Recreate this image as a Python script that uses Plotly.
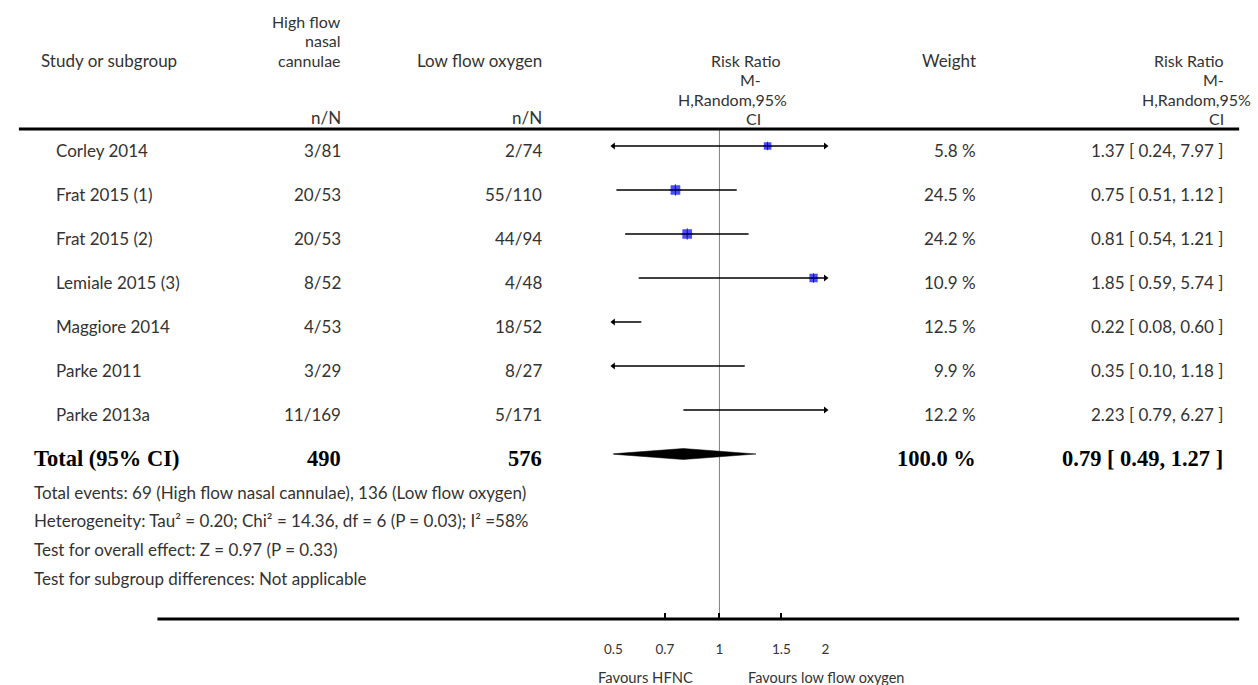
import math
import plotly.graph_objects as go

# ---------------- data ----------------
studies = ["Corley 2014", "Frat 2015 (1)", "Frat 2015 (2)", "Lemiale 2015 (3)",
           "Maggiore 2014", "Parke 2011", "Parke 2013a"]
hfnc_nN = ["3/81", "20/53", "20/53", "8/52", "4/53", "3/29", "11/169"]
lfo_nN = ["2/74", "55/110", "44/94", "4/48", "18/52", "8/27", "5/171"]
weights = [5.8, 24.5, 24.2, 10.9, 12.5, 9.9, 12.2]
rr = [1.37, 0.75, 0.81, 1.85, 0.22, 0.35, 2.23]
rr_lo = [0.24, 0.51, 0.54, 0.59, 0.08, 0.10, 0.79]
rr_hi = [7.97, 1.12, 1.21, 5.74, 0.60, 1.18, 6.27]

total_label = "Total (95% CI)"
total_hfnc = 490
total_lfo = 576
total_weight = 100.0
total_rr, total_lo, total_hi = 0.79, 0.49, 1.27

footer_lines = [
    "Total events: 69 (High flow nasal cannulae), 136 (Low flow oxygen)",
    "Heterogeneity: Tau² = 0.20; Chi² = 14.36, df = 6 (P = 0.03); I² =58%",
    "Test for overall effect: Z = 0.97 (P = 0.33)",
    "Test for subgroup differences: Not applicable",
]

header_hfnc = ["High flow", "nasal", "cannulae"]
header_rr = ["Risk Ratio", "M-", "H,Random,95%", "CI"]

tick_vals = [0.5, 0.7, 1, 1.5, 2]
tick_text = ["0.5", "0.7", "1", "1.5", "2"]
favours_left = "Favours HFNC"
favours_right = "Favours low flow oxygen"

# ---------------- layout geometry ----------------
W, H = 1258, 685
XMIN, XMAX = 0.5, 2.0
PLOT_L, PLOT_R = 610.7, 825.0      # px of forest axis
AXIS_Y = 619                      # px of bottom axis line
ROW0, ROWH = 146, 44              # px of first row, row spacing
SANS = "Lato"
SERIF = "Liberation Serif"
TXT = "#333333"
FS = 17
HS = 16
BS = 22.5


def px(x):
    return x / W


def py(y):
    return 1 - y / H


n = len(studies)
rows = list(range(n))
total_row = n

y_bottom = (AXIS_Y - ROW0) / ROWH
y_top = (0 - ROW0) / ROWH

fig = go.Figure()

# CI lines
for i in rows:
    fig.add_trace(go.Scatter(
        x=[rr_lo[i], rr_hi[i]], y=[i, i], mode="lines",
        line=dict(color="black", width=1.5), hoverinfo="skip", showlegend=False))

# arrows where CI exceeds axis range
left_rows = [i for i in rows if rr_lo[i] < XMIN]
right_rows = [i for i in rows if rr_hi[i] > XMAX]
fig.add_trace(go.Scatter(
    x=[XMIN] * len(left_rows), y=left_rows, mode="markers", cliponaxis=False,
    marker=dict(symbol="triangle-left", size=6, color="black"),
    hoverinfo="skip", showlegend=False))
fig.add_trace(go.Scatter(
    x=[XMAX] * len(right_rows), y=right_rows, mode="markers", cliponaxis=False,
    marker=dict(symbol="triangle-right", size=6, color="black"),
    hoverinfo="skip", showlegend=False))

# squares (only those inside the axis range are visible)
vis = [i for i in rows if XMIN <= rr[i] <= XMAX]
sizes = [5.5 + 0.85 * math.sqrt(weights[i]) for i in vis]
fig.add_trace(go.Scatter(
    x=[rr[i] for i in vis], y=vis, mode="markers",
    marker=dict(symbol="square", size=sizes, color="#0000FF", line=dict(width=0)),
    hoverinfo="skip", showlegend=False))
fig.add_trace(go.Scatter(
    x=[rr[i] for i in vis], y=vis, mode="markers",
    marker=dict(symbol="cross-thin", size=[s - 1.5 for s in sizes],
                line=dict(color="black", width=1)),
    hoverinfo="skip", showlegend=False))

# diamond for total
dh = 5.5 / ROWH
fig.add_trace(go.Scatter(
    x=[total_lo, total_rr, total_hi, total_rr, total_lo],
    y=[total_row, total_row - dh, total_row, total_row + dh, total_row],
    mode="lines", fill="toself", fillcolor="black",
    line=dict(color="black", width=0.5), hoverinfo="skip", showlegend=False))

# ---------------- text annotations ----------------
ann = []


def add_text(x, y, text, anchor, yref="paper", size=FS, family=SANS, color=TXT,
             yshift=0, weight="normal"):
    ann.append(dict(x=x, y=y, xref="paper", yref=yref, text=text, showarrow=False,
                    xanchor=anchor, yanchor="middle", yshift=yshift, borderpad=0,
                    font=dict(family=family, size=size, color=color, weight=weight)))


# header
add_text(px(31), py(60), "Study or subgroup", "left")
for t, y in zip(header_hfnc, [21, 40.5, 60]):
    add_text(px(336), py(y), t, "right", size=HS)
add_text(px(336), py(117), "n/N", "right")
add_text(px(540), py(60), "Low flow oxygen", "right")
add_text(px(540), py(117), "n/N", "right")
for t, x, y in zip(header_rr, [781, 761, 787, 761], [60, 79.5, 99, 118.5]):
    add_text(px(x), py(y), t, "right", size=HS)
add_text(px(978), py(60), "Weight", "right")
for t, x, y in zip(header_rr, [1229, 1229, 1256, 1229], [60, 79.5, 99, 118.5]):
    add_text(px(x), py(y), t, "right", size=HS)

# study rows
for i in rows:
    add_text(px(46), i, studies[i], "left", yref="y", yshift=-4)
    add_text(px(336), i, hfnc_nN[i], "right", yref="y", yshift=-4)
    add_text(px(540), i, lfo_nN[i], "right", yref="y", yshift=-4)
    add_text(px(978), i, f"{weights[i]:.1f} %", "right", yref="y", yshift=-4)
    add_text(px(1228), i, f"{rr[i]:.2f} [ {rr_lo[i]:.2f}, {rr_hi[i]:.2f} ]", "right",
             yref="y", yshift=-4)

# total row
bold = dict(yref="y", size=BS, family=SERIF, color="black", yshift=-4, weight="bold")
add_text(px(24), total_row, total_label, "left", **bold)
add_text(px(336), total_row, f"{total_hfnc}", "right", **bold)
add_text(px(540), total_row, f"{total_lfo}", "right", **bold)
add_text(px(978), total_row, f"{total_weight:.1f} %", "right", **bold)
add_text(px(1228), total_row, f"{total_rr:.2f} [ {total_lo:.2f}, {total_hi:.2f} ]",
         "right", **bold)

# footer
for t, y in zip(footer_lines, [492, 520, 549, 578]):
    add_text(px(24), py(y), t, "left", size=FS)

# favours labels
add_text(px(643), py(677), favours_left, "center", size=14.8)
add_text(px(826), py(677), favours_right, "center", size=14.5)

# ---------------- shapes ----------------
shapes = [
    dict(type="line", xref="paper", yref="paper", x0=px(10), x1=px(1243),
         y0=py(129), y1=py(129), line=dict(color="black", width=3)),
    dict(type="line", xref="paper", yref="paper", x0=px(150), x1=px(1243),
         y0=py(AXIS_Y), y1=py(AXIS_Y), line=dict(color="black", width=3)),
    dict(type="line", xref="x", yref="paper", x0=1, x1=1,
         y0=py(AXIS_Y), y1=py(130), line=dict(color="#808080", width=1), layer="below"),
]

fig.update_layout(
    width=W, height=H,
    margin=dict(l=0, r=0, t=0, b=0),
    paper_bgcolor="white", plot_bgcolor="white",
    showlegend=False,
    annotations=ann,
    shapes=shapes,
    xaxis=dict(type="log", range=[math.log10(XMIN), math.log10(XMAX)],
               domain=[px(PLOT_L), px(PLOT_R)],
               tickvals=tick_vals, ticktext=tick_text,
               ticks="inside", ticklen=6, tickwidth=2, tickcolor="black",
               showline=False, showgrid=False, zeroline=False,
               ticklabelstandoff=20,
               tickfont=dict(family=SANS, size=13.5, color=TXT)),
    yaxis=dict(range=[y_bottom, y_top], domain=[py(AXIS_Y), 1],
               showticklabels=False, showgrid=False, zeroline=False,
               showline=False, ticks=""),
)

fig.write_html("out.html")
